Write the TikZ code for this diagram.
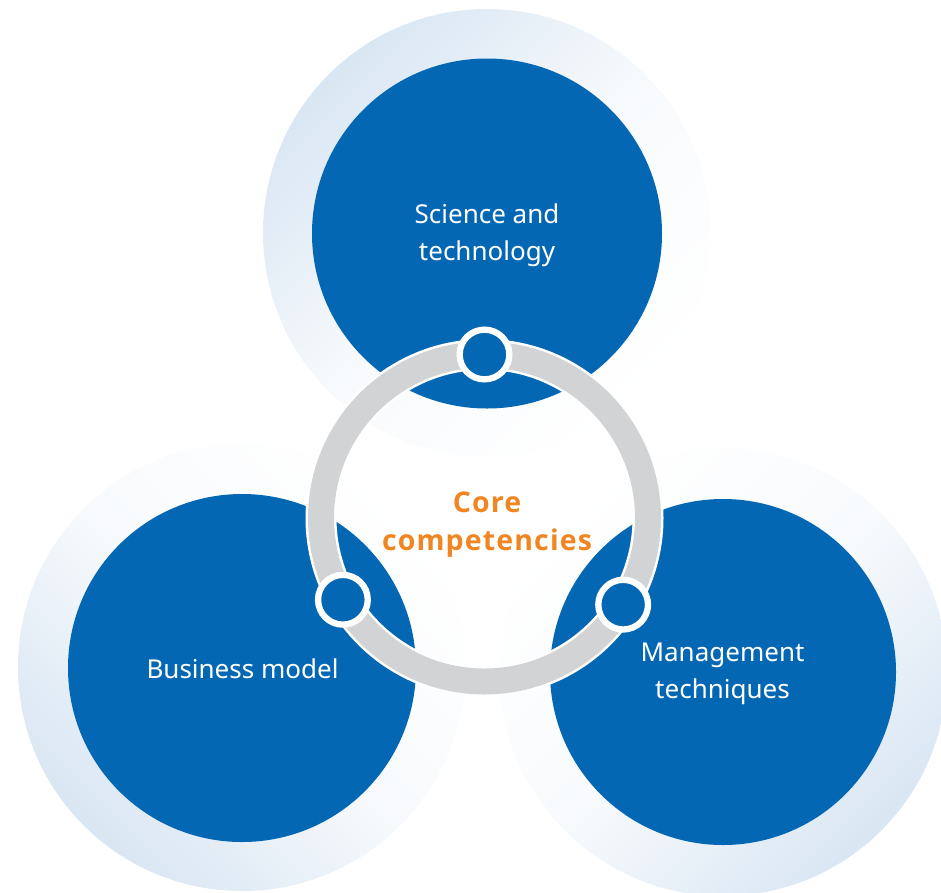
\documentclass[tikz,border=0pt]{standalone}
\usepackage{fontspec}
\setmainfont{Noto Sans}
\newfontfamily\corefont{Open Sans}[LetterSpace=4]
\definecolor{cblue}{HTML}{0467B3}
\definecolor{cring}{HTML}{D1D3D5}
\definecolor{corange}{HTML}{F08522}
\definecolor{chalo}{HTML}{D9E6F3}
\begin{document}
\begin{tikzpicture}[x=1pt,y=-1pt,
  halo/.style={circle, inner sep=0pt, minimum size=448pt, top color=chalo, bottom color=white, middle color=chalo!20!white},
  bigcirc/.style={circle, inner sep=0pt, minimum size=350pt, fill=cblue},
  ringw/.style={circle, inner sep=0pt, outer sep=0pt, minimum size=327pt, draw=white, line width=31pt},
  ringg/.style={circle, inner sep=0pt, outer sep=0pt, minimum size=327pt, draw=cring, line width=26pt},
  dotc/.style={circle, inner sep=0pt, minimum size=49.7pt, fill=cblue, draw=white, line width=6.3pt},
  lbl/.style={text=white, font=\fontsize{26pt}{37pt}\selectfont, align=center, inner sep=0pt},
  core/.style={text=corange, font=\corefont\fontsize{28.5pt}{38pt}\selectfont\bfseries, align=center, inner sep=0pt}]
\useasboundingbox (0,0) rectangle (941,892);
% halos
\node[halo, shading angle=45] (hsci) at (487,233) {};
\node[halo, shading angle=135] (hbus) at (242,667) {};
\node[halo, shading angle=225] (hman) at (723,672) {};
% blue circles
\node[bigcirc] (sci) at (487,233.5) {};
\node[bigcirc, minimum size=348pt] (bus) at (242,668) {};
\node[bigcirc, minimum size=346pt] (man) at (723,672) {};
% ring
\node[ringw] (ringback) at (484.5,518) {};
\node[ringg] (ring) at (484.5,518) {};
% dots
\node[dotc] (dtop) at (ring.90) {};
\node[dotc] (dleft) at (ring.210) {};
\node[dotc] (dright) at (ring.328) {};
% labels
\node[lbl] (tsci) at (487,235) {Science and\\technology};
\node[lbl, anchor=base] (tbus) at (242.5,678) {Business model};
\node[lbl] (tman) at (722.5,674.3) {Management\\techniques};
\node[core] (tcore) at (487,524.2) {Core\\competencies};
\end{tikzpicture}
\end{document}
